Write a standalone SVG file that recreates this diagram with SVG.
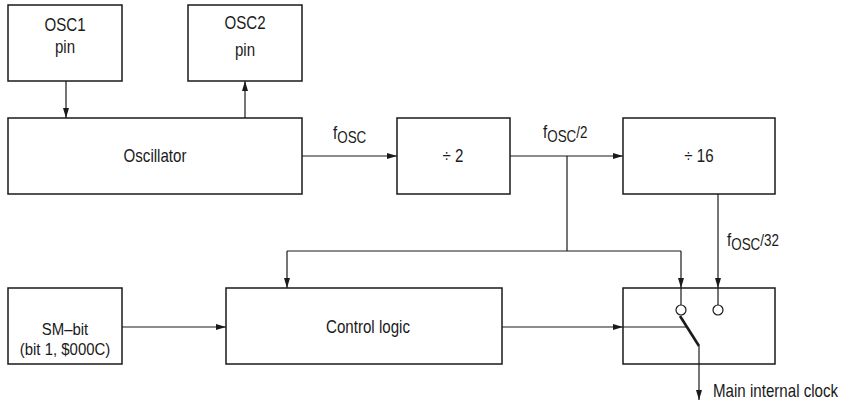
<svg xmlns="http://www.w3.org/2000/svg" width="845" height="401" viewBox="0 0 845 401">
<style>
.box{fill:#fff;stroke:#1a1a1a;stroke-width:1.5}
.ln{fill:none;stroke:#1a1a1a;stroke-width:1.2}
.t{font-family:"Liberation Sans",Arial,sans-serif;font-size:18px;fill:#1a1a1a;text-anchor:middle}
.tl{font-family:"Liberation Sans",Arial,sans-serif;font-size:18px;fill:#1a1a1a}
.sub{font-size:16px}
.sm{font-size:17px}
</style>
<defs>
<marker id="ah" viewBox="0 0 10 6" refX="10" refY="3" markerWidth="10" markerHeight="6" markerUnits="userSpaceOnUse" orient="auto">
<path d="M0,0 L10,3 L0,6 Z" fill="#1a1a1a"/>
</marker>
</defs>
<g id="osc1"><rect class="box" x="8" y="5" width="114" height="76"/><text class="t" transform="translate(65,31) scale(0.84,1)">OSC1</text><text class="t" transform="translate(65,53) scale(0.84,1)">pin</text></g>
<g id="osc2"><rect class="box" x="188" y="5" width="114" height="76"/><text class="t" transform="translate(245,29) scale(0.84,1)">OSC2</text><text class="t" transform="translate(245,56) scale(0.84,1)">pin</text></g>
<g id="oscillator"><rect class="box" x="8" y="118" width="294" height="76"/><text class="t" transform="translate(155,162) scale(0.84,1)">Oscillator</text></g>
<g id="div2"><rect class="box" x="397" y="118" width="113" height="76"/><text class="t" transform="translate(453,162) scale(0.84,1)">÷ 2</text></g>
<g id="div16"><rect class="box" x="623" y="118" width="152" height="76"/><text class="t" transform="translate(699,162) scale(0.84,1)">÷ 16</text></g>
<g id="smbit"><rect class="box" x="8" y="288" width="114" height="76"/><text class="t sm" transform="translate(65,335) scale(0.88,1)">SM–bit</text><text class="t sm" transform="translate(65,355) scale(0.88,1)">(bit 1, $000C)</text></g>
<g id="control"><rect class="box" x="226" y="288" width="276" height="76"/><text class="t" transform="translate(368,333) scale(0.84,1)">Control logic</text></g>
<g id="switch"><rect class="box" x="623" y="288" width="152" height="76"/>
<circle cx="681" cy="310" r="5" fill="#fff" stroke="#1a1a1a" stroke-width="1.2"/>
<circle cx="718" cy="310" r="5" fill="#fff" stroke="#1a1a1a" stroke-width="1.2"/>
<line x1="680" y1="316" x2="699" y2="346" stroke="#1a1a1a" stroke-width="2.6"/>
</g>
<g id="connectors">
<line class="ln" x1="66" y1="81" x2="66" y2="118" marker-end="url(#ah)"/>
<line class="ln" x1="245" y1="118" x2="245" y2="81" marker-end="url(#ah)"/>
<line class="ln" x1="302" y1="156" x2="397" y2="156" marker-end="url(#ah)"/>
<line class="ln" x1="510" y1="156" x2="623" y2="156" marker-end="url(#ah)"/>
<polyline class="ln" points="567,156 567,251"/>
<polyline class="ln" points="287,251 681,251"/>
<line class="ln" x1="287" y1="251" x2="287" y2="288" marker-end="url(#ah)"/>
<line class="ln" x1="681" y1="251" x2="681" y2="288" marker-end="url(#ah)"/>
<line class="ln" x1="681" y1="288" x2="681" y2="305"/>
<line class="ln" x1="718" y1="194" x2="718" y2="288" marker-end="url(#ah)"/>
<line class="ln" x1="718" y1="288" x2="718" y2="305"/>
<line class="ln" x1="122" y1="327" x2="226" y2="327" marker-end="url(#ah)"/>
<line class="ln" x1="502" y1="327" x2="623" y2="327" marker-end="url(#ah)"/>
<line class="ln" x1="623" y1="327" x2="687" y2="327"/>
<line class="ln" x1="699" y1="346" x2="699" y2="400" marker-end="url(#ah)"/>
</g>
<g id="labels">
<text class="tl" transform="translate(333,139) scale(0.84,1)">f<tspan class="sub" dy="4">OSC</tspan></text>
<text class="tl" transform="translate(543,138) scale(0.84,1)">f<tspan class="sub" dy="4">OSC</tspan><tspan class="sub" dy="-4">/2</tspan></text>
<text class="tl" transform="translate(727,246) scale(0.84,1)">f<tspan class="sub" dy="4">OSC</tspan><tspan class="sub" dy="-4">/32</tspan></text>
<text class="tl" transform="translate(713,397) scale(0.84,1)">Main internal clock</text>
</g>
</svg>
